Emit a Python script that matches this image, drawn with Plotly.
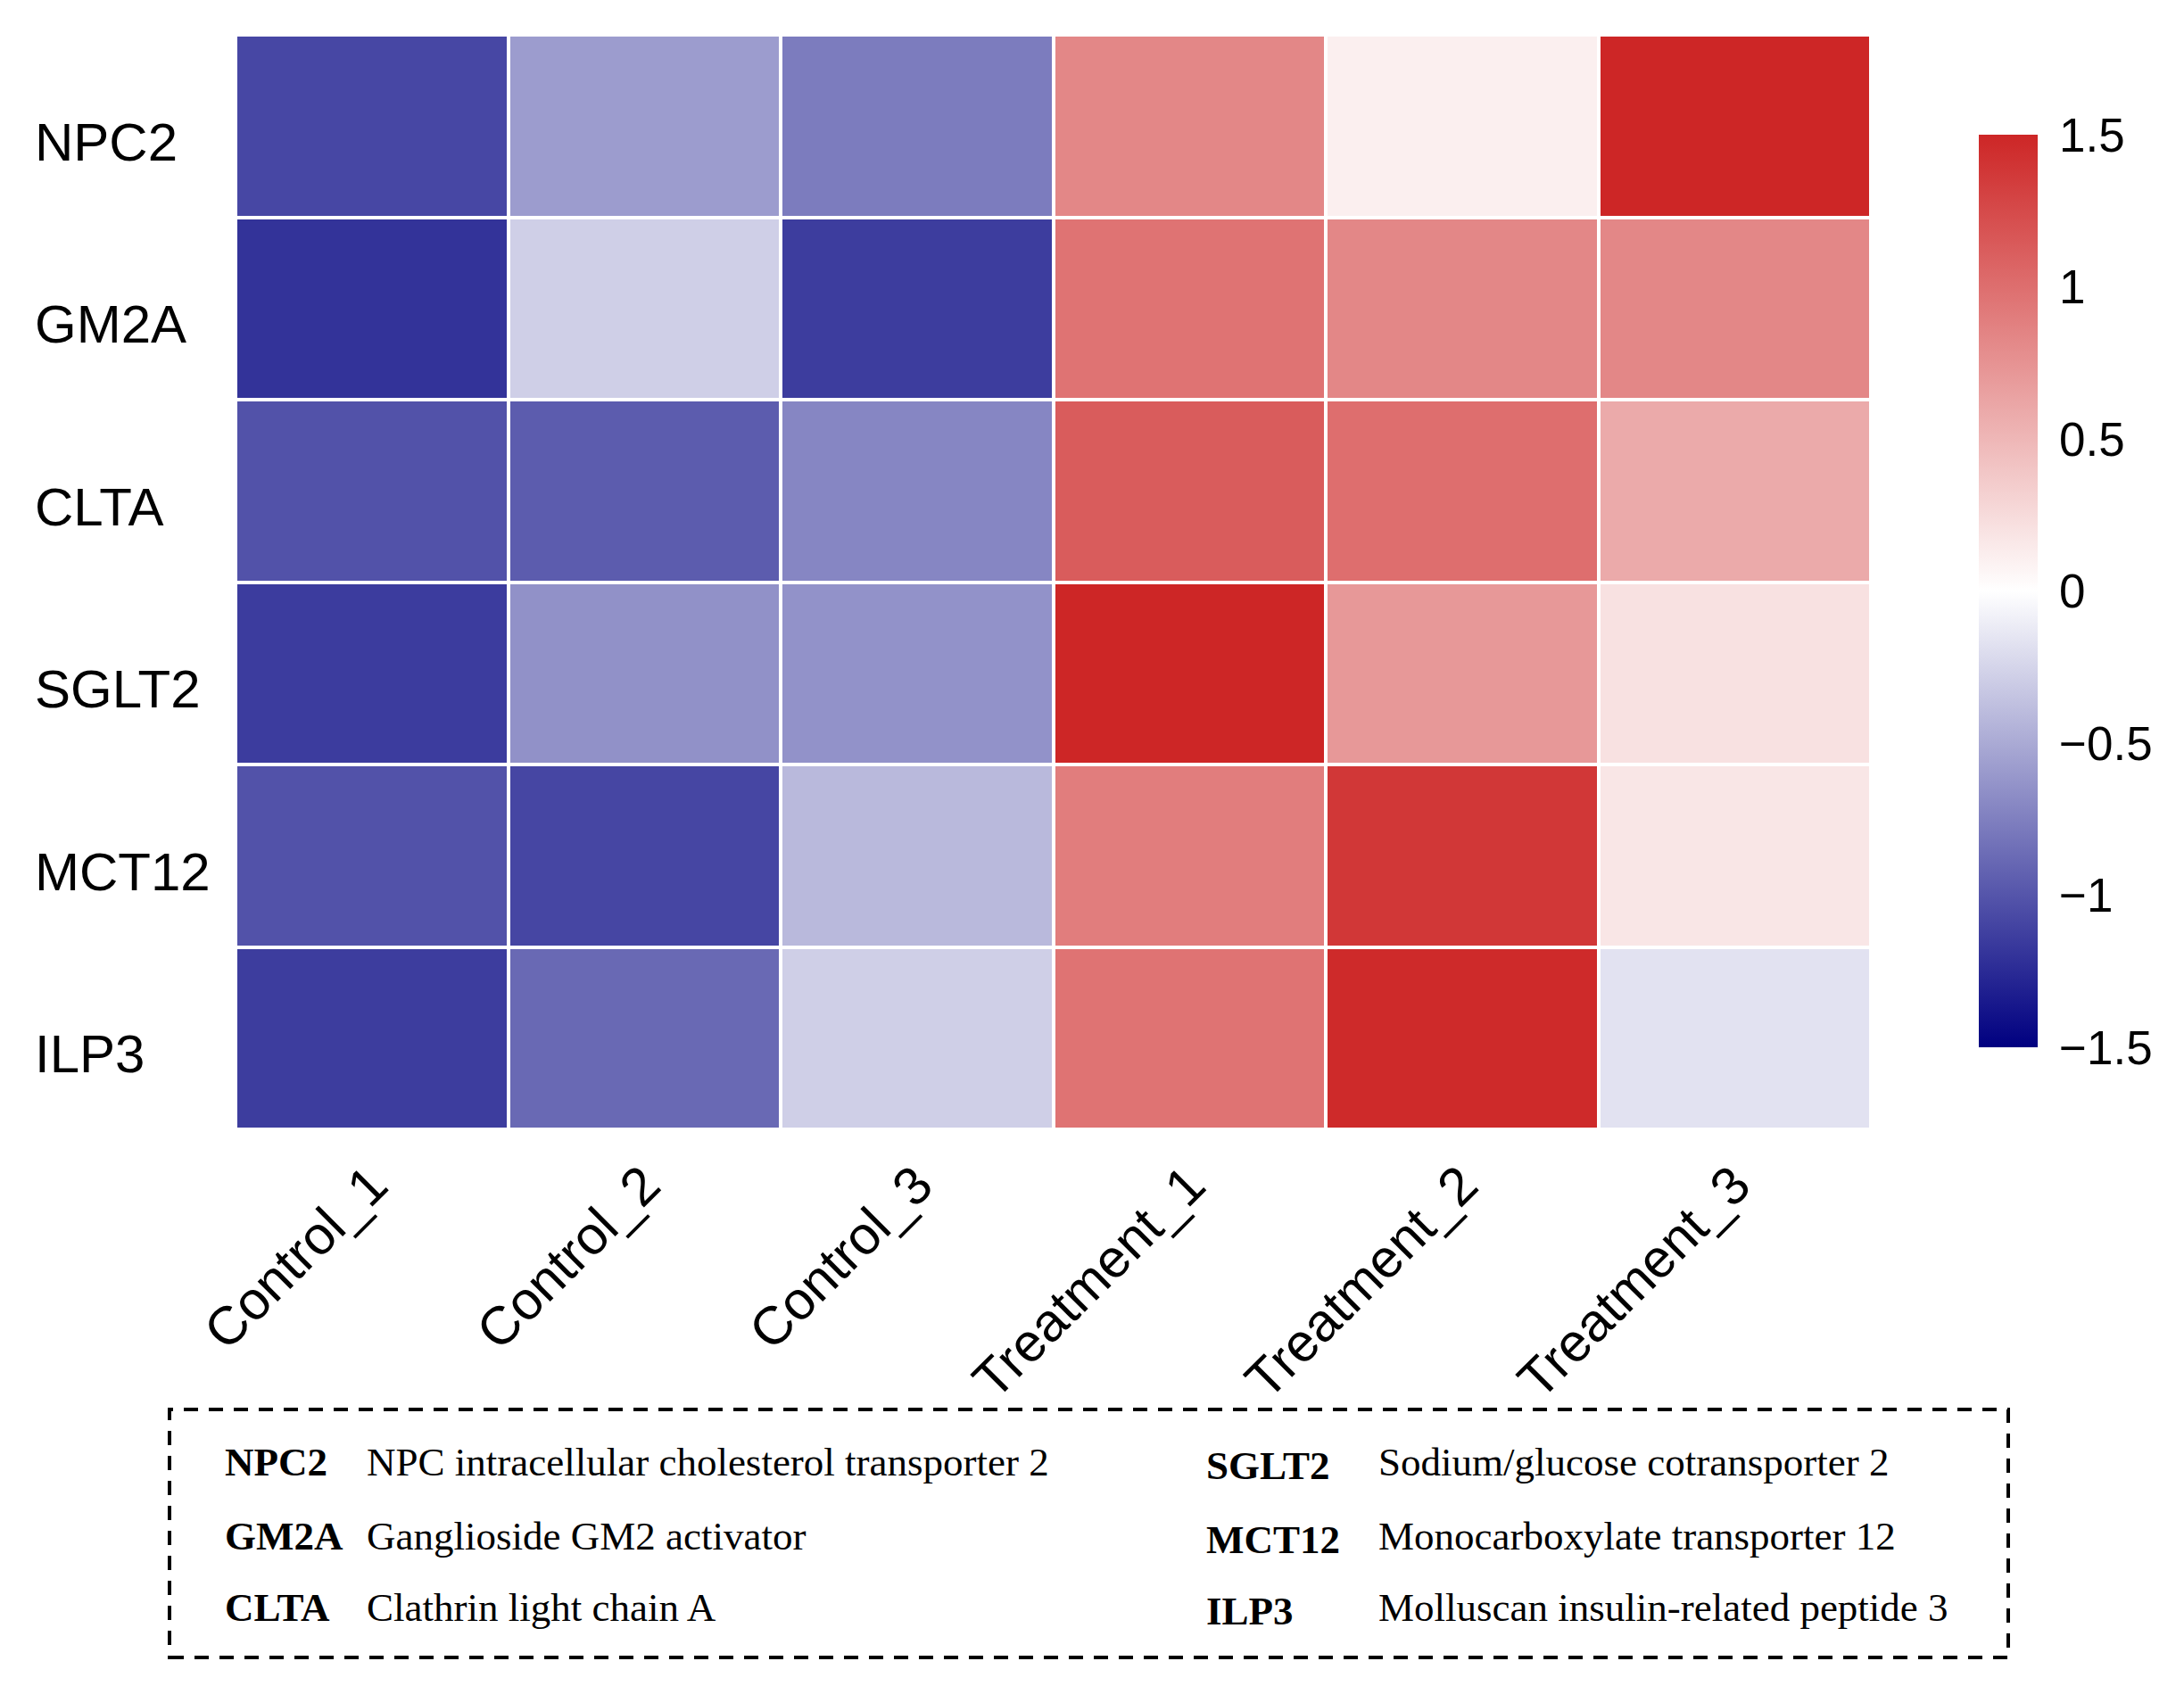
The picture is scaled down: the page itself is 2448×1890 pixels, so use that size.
import plotly.graph_objects as go

genes = ["NPC2", "GM2A", "CLTA", "SGLT2", "MCT12", "ILP3"]
samples = ["Control_1", "Control_2", "Control_3", "Treatment_1", "Treatment_2", "Treatment_3"]

npc2 = [-1.08, -0.58, -0.77, 0.83, 0.11, 1.50]
gm2a = [-1.20, -0.28, -1.14, 0.97, 0.83, 0.83]
clta = [-1.02, -0.96, -0.71, 1.13, 1.00, 0.59]
sglt2 = [-1.15, -0.65, -0.64, 1.50, 0.71, 0.21]
mct12 = [-1.02, -1.09, -0.41, 0.90, 1.38, 0.17]
ilp3 = [-1.14, -0.88, -0.28, 0.97, 1.47, -0.17]

cb_vals = [-1.5, -1, -0.5, 0, 0.5, 1, 1.5]
cb_text = ["\u22121.5", "\u22121", "\u22120.5", "0", "0.5", "1", "1.5"]

legend_left = [("NPC2", "NPC intracellular cholesterol transporter 2"),
               ("GM2A", "Ganglioside GM2 activator"),
               ("CLTA", "Clathrin light chain A")]
legend_right = [("SGLT2", "Sodium/glucose cotransporter 2"),
                ("MCT12", "Monocarboxylate transporter 12"),
                ("ILP3", "Molluscan insulin-related peptide 3")]

z = [npc2, gm2a, clta, sglt2, mct12, ilp3]

# page body has an 8px margin; coordinates below are screen coordinates
O = 8
W, H = 2448 - 2 * O, 1890 - 2 * O
L, R, T, B = 264, 2097, 39, 1266  # plot area in screen px
ml, mt = L - O, T - O
mr = W - (R - O)
mb = H - (B - O)
pw, ph = R - L, B - T

def px(xs):
    return (xs - L) / pw

def py(ys):
    return (B - ys) / ph

fig = go.Figure(go.Heatmap(
    z=z, x=samples, y=genes,
    zmin=-1.5, zmax=1.5,
    colorscale=[[0, "#000080"], [0.5, "#FFFFFF"], [1, "#CD2626"]],
    xgap=4, ygap=4,
    colorbar=dict(
        x=px(2218), xanchor="left", xpad=0,
        y=py((151 + 1174) / 2), yanchor="middle", ypad=0,
        len=1023 / ph, lenmode="fraction",
        thickness=66, outlinewidth=0,
        tickvals=cb_vals, ticktext=cb_text,
        ticks="outside", ticklen=14, tickcolor="rgba(0,0,0,0)",
        tickfont=dict(family="Liberation Sans", size=53, color="#000"),
    ),
))

fig.update_layout(
    width=W, height=H,
    margin=dict(l=ml, r=mr, t=mt, b=mb),
    plot_bgcolor="white", paper_bgcolor="white",
    xaxis=dict(showgrid=False, zeroline=False, tickangle=-45, ticks="",
               tickfont=dict(family="Liberation Sans", size=60, color="#000"),
               ticklabelstandoff=14),
    yaxis=dict(showgrid=False, zeroline=False, autorange="reversed",
               showticklabels=False, ticks=""),
)

annotations = []
for g in genes:
    annotations.append(dict(x=px(37), xref="paper", y=g, yref="y", text=g,
                            showarrow=False, xanchor="left", yanchor="middle", yshift=-18,
                            font=dict(family="Liberation Sans", size=60, color="#000")))

rows_y = [1639, 1722, 1802]
for (abbr, desc), yy in zip(legend_left, rows_y):
    annotations.append(dict(x=px(250), xref="paper", y=py(yy), yref="paper",
                            text="<b>%s</b>" % abbr, showarrow=False, xanchor="left", yanchor="middle",
                            font=dict(family="Liberation Serif", size=45, color="#000")))
    annotations.append(dict(x=px(409), xref="paper", y=py(yy), yref="paper",
                            text=desc, showarrow=False, xanchor="left", yanchor="middle",
                            font=dict(family="Liberation Serif", size=45, color="#000")))
for (abbr, desc), yy in zip(legend_right, rows_y):
    annotations.append(dict(x=px(1350), xref="paper", y=py(yy + 4), yref="paper",
                            text="<b>%s</b>" % abbr, showarrow=False, xanchor="left", yanchor="middle",
                            font=dict(family="Liberation Serif", size=45, color="#000")))
    annotations.append(dict(x=px(1543), xref="paper", y=py(yy), yref="paper",
                            text=desc, showarrow=False, xanchor="left", yanchor="middle",
                            font=dict(family="Liberation Serif", size=45, color="#000")))

fig.update_layout(annotations=annotations)
fig.add_shape(type="rect", xref="paper", yref="paper",
              x0=px(190), x1=px(2251), y0=py(1858), y1=py(1580),
              line=dict(color="#000", width=4, dash="16px,12px"))

fig.write_html("out.html")
